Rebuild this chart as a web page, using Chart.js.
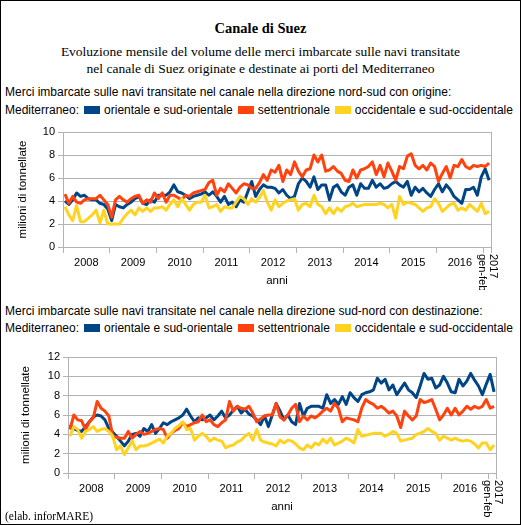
<!DOCTYPE html>
<html>
<head>
<meta charset="utf-8">
<script src="https://cdn.jsdelivr.net/npm/chart.js@4.4.0/dist/chart.umd.min.js"></script>
<style>
  body { margin: 0; background: #fff; }
  #page { position: relative; width: 521px; height: 525px; overflow: hidden; font-family: "Liberation Sans", Arial, sans-serif; color: #000; }
  #frame { position: absolute; left: 0; top: 0; width: 521px; height: 525px; border: 1px solid #000; box-sizing: border-box; pointer-events: none; }
  .t { position: absolute; white-space: nowrap; }
  .serif { font-family: "Liberation Serif", "Times New Roman", serif; }
  .sans { font-size: 12px; line-height: 15px; left: 5px; }
  .sw { display: inline-block; width: 16px; height: 8px; margin: 0 4px 0 5px; vertical-align: 0px; }
  canvas { position: absolute; left: 0; }
</style>
</head>
<body>
<div id="page">
  <div class="t serif" style="top:19px;left:0;width:521px;text-align:center;font-size:14.5px;font-weight:bold;line-height:18px">Canale di Suez</div>
  <div class="t serif" style="top:43px;left:0;width:521px;text-align:center;font-size:13.5px;line-height:17px">Evoluzione mensile del volume delle merci imbarcate sulle navi transitate<br>nel canale di Suez originate e destinate ai porti del Mediterraneo</div>

  <div class="t sans" style="top:85px">Merci imbarcate sulle navi transitate nel canale nella direzione nord-sud con origine:</div>
  <div class="t sans legend" style="top:103px"></div>
  <canvas id="chartNS" width="521" height="172" style="top:118px"></canvas>

  <div class="t sans" style="top:304px">Merci imbarcate sulle navi transitate nel canale nella direzione sud-nord con destinazione:</div>
  <div class="t sans legend" style="top:321px"></div>
  <canvas id="chartSN" width="521" height="182" style="top:343px"></canvas>

  <div class="t serif" style="top:509px;left:5px;font-size:11.5px;line-height:14px">(elab. inforMARE)</div>
  <div id="frame"></div>
</div>
<script>
const years = ["2008", "2009", "2010", "2011", "2012", "2013", "2014", "2015", "2016"];
const lastPeriod = ["2017", "gen-feb"];
const seriesNames = ["orientale e sud-orientale", "settentrionale", "occidentale e sud-occidentale"];
const colors = ["#004586", "#ff420e", "#ffd320"];

// nord-sud, per porti di origine (milioni di tonnellate, gen 2008 - feb 2017)
const nsOrientale = [
  4.0, 3.7, 4.1, 4.7, 4.4, 4.5, 4.2, 4.1, 4.1, 3.8, 3.7, 3.3,
  2.3, 3.7, 3.5, 3.4, 3.7, 3.9, 4.2, 4.4, 3.8, 3.7, 4.1, 3.9,
  4.5, 4.5, 4.5, 4.8, 5.4, 4.8, 4.7, 4.5, 4.2, 4.4, 4.5, 4.6,
  4.8, 4.5, 4.8, 4.4, 3.9, 4.4, 3.7, 3.9, 3.5, 4.1, 3.9, 4.8,
  5.7, 4.4, 5.0, 5.4, 5.2, 5.2, 5.1, 4.7, 5.0, 4.5, 4.2, 4.4,
  5.5, 6.0, 5.7, 5.2, 6.1, 5.0, 5.4, 5.4, 4.1, 5.2, 5.4, 4.8,
  4.5, 5.2, 5.4, 4.5, 5.5, 5.1, 5.1, 5.8, 5.2, 5.5, 5.1, 5.2,
  5.5, 5.7, 5.4, 5.2, 5.7, 4.5, 5.2, 4.8, 5.1, 4.7, 4.4, 5.0,
  5.5, 4.8, 5.4, 5.0, 4.4, 4.1, 3.8, 5.0, 5.0, 5.2, 4.5, 6.1,
  6.8, 5.8
];
const nsSettentrionale = [
  4.6, 3.8, 4.4, 3.9, 3.8, 4.1, 4.2, 4.2, 4.2, 4.5, 4.1, 3.7,
  2.6, 4.1, 4.4, 4.1, 3.9, 4.2, 4.4, 4.5, 3.8, 4.1, 3.9, 4.7,
  4.2, 4.7, 3.9, 4.5, 4.5, 4.3, 4.1, 4.5, 4.4, 4.7, 4.8, 4.9,
  5.0, 5.6, 5.8, 4.5, 5.1, 4.8, 5.5, 5.1, 4.7, 5.2, 5.5, 5.4,
  5.1, 5.1, 5.6, 6.3, 5.8, 6.7, 6.5, 7.1, 5.7, 6.7, 6.3, 7.4,
  6.6, 6.1, 6.7, 6.8, 8.0, 7.4, 8.0, 6.6, 6.7, 7.0, 6.6, 6.4,
  5.8, 5.7, 6.7, 6.0, 6.7, 6.8, 7.0, 7.4, 6.3, 7.1, 6.1, 7.3,
  6.6, 5.8, 7.0, 6.8, 7.9, 8.1, 7.1, 6.8, 7.1, 6.7, 7.3, 7.0,
  5.7, 6.4, 7.0, 6.0, 7.1, 7.0, 7.6, 7.0, 6.8, 7.1, 7.0, 7.1,
  7.0, 7.3
];
const nsOccidentale = [
  3.5, 2.8, 2.3, 3.6, 2.2, 2.2, 2.5, 2.8, 3.2, 2.1, 3.2, 2.0,
  2.0, 2.0, 2.0, 2.5, 2.9, 3.2, 2.8, 3.4, 3.1, 3.4, 3.1, 3.4,
  3.4, 3.5, 3.2, 3.7, 4.1, 3.5, 4.2, 3.7, 3.2, 3.7, 3.9, 3.9,
  4.5, 3.4, 3.5, 3.7, 3.1, 3.5, 3.4, 3.4, 3.9, 4.4, 4.2, 3.7,
  4.2, 3.9, 4.3, 4.9, 3.9, 3.2, 4.1, 3.5, 3.8, 4.0, 4.1, 4.2,
  3.2, 3.7, 3.8, 3.5, 4.5, 3.7, 3.5, 2.9, 3.4, 2.9, 3.4, 3.1,
  3.5, 3.6, 3.8, 3.5, 3.6, 3.7, 3.7, 3.7, 3.7, 3.8, 3.7, 3.4,
  3.7, 2.5, 4.4, 3.7, 3.9, 3.8, 3.7, 3.4, 3.1, 3.4, 3.5, 4.2,
  3.8, 3.1, 3.4, 3.7, 3.8, 3.2, 3.4, 3.2, 3.7, 3.4, 3.1, 3.8,
  2.9, 3.1
];

// sud-nord, per porti di destinazione
const snOrientale = [
  5.0, 4.6, 4.4, 4.3, 4.8, 5.3, 5.8, 6.0, 5.9, 5.5, 4.6, 4.2,
  3.8, 3.3, 2.8, 3.3, 4.0, 4.1, 3.8, 4.6, 4.3, 5.0, 4.1, 4.6,
  5.2, 5.0, 5.3, 5.5, 5.7, 6.0, 6.6, 5.9, 5.3, 5.7, 5.5, 5.7,
  6.0, 5.5, 5.9, 6.4, 5.7, 6.0, 6.5, 6.9, 6.2, 6.6, 6.1, 5.9,
  5.5, 5.0, 5.9, 4.8, 6.0, 7.2, 6.4, 5.5, 6.0, 5.3, 5.0, 7.2,
  5.9, 6.7, 6.9, 6.9, 6.9, 6.7, 8.1, 7.2, 7.6, 7.1, 7.9, 7.1,
  8.3, 7.8, 7.4, 8.1, 8.3, 8.4, 8.6, 9.8, 9.3, 9.7, 8.6, 9.1,
  8.1, 8.7, 9.3, 8.6, 8.3, 7.8, 9.0, 10.3, 9.7, 9.8, 8.8, 9.1,
  10.0, 9.3, 8.4, 8.3, 9.7, 9.0, 9.5, 10.3, 9.6, 9.0, 8.1, 9.2,
  10.2, 8.4
];
const snSettentrionale = [
  4.5, 6.0, 5.5, 5.4, 4.5, 5.3, 5.7, 7.4, 6.7, 6.4, 5.9, 3.8,
  3.7, 3.6, 3.6, 4.3, 3.6, 4.0, 4.3, 4.0, 4.1, 4.3, 4.5, 4.6,
  4.5, 3.6, 4.1, 4.4, 4.6, 5.2, 4.8, 5.0, 5.2, 5.3, 6.0, 5.3,
  5.5, 5.0, 4.8, 5.2, 5.5, 7.4, 6.4, 6.9, 6.7, 6.6, 6.9, 6.2,
  5.3, 5.6, 5.9, 6.0, 6.0, 7.2, 5.8, 5.5, 6.0, 6.7, 7.1, 5.3,
  5.9, 5.5, 5.9, 5.7, 6.0, 6.4, 6.7, 6.4, 7.2, 6.7, 5.3, 5.7,
  5.6, 5.5, 5.3, 6.7, 7.6, 7.3, 7.1, 6.7, 6.9, 6.6, 6.2, 6.4,
  5.9, 4.7, 6.4, 5.9, 5.5, 5.9, 7.6, 7.3, 7.4, 7.6, 6.6, 5.5,
  6.0, 6.7, 6.0, 6.7, 6.0, 6.4, 6.9, 6.6, 6.9, 6.7, 6.9, 7.6,
  6.7, 6.9
];
const snOccidentale = [
  3.8, 4.8, 4.5, 3.6, 4.3, 4.5, 4.8, 4.3, 4.5, 4.6, 4.3, 3.8,
  2.4, 2.8, 1.9, 2.6, 3.3, 2.4, 2.8, 2.8, 2.9, 3.1, 3.3, 3.5,
  3.1, 3.8, 4.1, 4.6, 4.9, 5.3, 4.5, 4.6, 3.4, 3.8, 4.1, 3.8,
  3.3, 3.6, 3.4, 3.3, 2.6, 2.8, 2.9, 3.2, 3.4, 3.8, 4.1, 3.4,
  4.5, 3.4, 3.2, 3.1, 3.0, 2.8, 3.4, 3.1, 3.4, 3.3, 3.0, 2.6,
  2.4, 2.9, 2.6, 3.1, 2.9, 3.5, 3.1, 3.6, 2.9, 3.1, 3.3, 3.6,
  3.4, 3.1, 4.5, 3.8, 3.9, 4.0, 4.1, 4.1, 4.1, 3.8, 4.0, 4.3,
  4.1, 3.3, 3.4, 3.5, 3.6, 4.0, 4.1, 4.3, 4.6, 4.3, 4.1, 3.4,
  3.8, 3.6, 3.4, 3.6, 3.4, 3.3, 3.4, 3.3, 3.0, 2.6, 3.1, 3.1,
  2.4, 2.9
];

const nMonths = nsOrientale.length;
const gridGrey = "#b3b3b3";
const tickFont = { family: "Liberation Sans", size: 11 };
const titleFont = { family: "Liberation Sans", size: 11.5 };

// legends in html, same colours as the lines
document.querySelectorAll(".legend").forEach(function (el) {
  let html = "Mediterraneo:";
  seriesNames.forEach(function (name, i) {
    html += '<span class="sw" style="background:' + colors[i] + '"></span>' + name;
  });
  el.innerHTML = html;
});

function toPoints(arr) {
  return arr.map((v, i) => ({ x: i + 0.5, y: v }));
}

// right border of the plot and the rotated "2017 gen-feb" label
const extras = {
  id: "extras",
  afterDraw(chart) {
    const { ctx, chartArea, scales } = chart;
    ctx.save();
    ctx.strokeStyle = gridGrey;
    ctx.lineWidth = 1;
    const rx = Math.round(chartArea.right) + 0.5;
    ctx.beginPath();
    ctx.moveTo(rx, chartArea.top);
    ctx.lineTo(rx, chartArea.bottom);
    ctx.stroke();

    const x = scales.x.getPixelForValue(nMonths - 1);
    ctx.translate(x, scales.x.top + 7);
    ctx.rotate(Math.PI / 2);
    ctx.fillStyle = "#000";
    ctx.font = "11px 'Liberation Sans'";
    ctx.textBaseline = "middle";
    ctx.textAlign = "left";
    ctx.fillText(lastPeriod[0], 0, -6);
    ctx.fillText(lastPeriod[1], 0, 5);
    ctx.restore();
  }
};

function createChart(id, data, yMax, opt) {
  const datasets = data.map((arr, i) => ({
    label: seriesNames[i],
    data: toPoints(arr),
    borderColor: colors[i],
    backgroundColor: colors[i],
    borderWidth: 3,
    pointRadius: 0,
    tension: 0,
    borderJoinStyle: "round",
    order: data.length - i
  }));
  return new Chart(document.getElementById(id), {
    type: "line",
    data: { datasets: datasets },
    options: {
      responsive: false,
      animation: false,
      layout: { padding: { top: opt.padTop, right: opt.padRight, left: 0, bottom: 0 } },
      plugins: { legend: { display: false }, tooltip: { enabled: false } },
      scales: {
        x: {
          type: "linear",
          min: 0,
          max: nMonths,
          afterBuildTicks: function (s) {
            const t = [];
            for (let v = 0; v <= nMonths; v += 6) t.push({ value: v });
            t.push({ value: nMonths });
            s.ticks = t;
          },
          afterFit: function (s) { s.height = opt.xHeight; },
          grid: {
            drawOnChartArea: false,
            tickLength: 6,
            color: (c) => (c.tick && (c.tick.value % 12 === 0 || c.tick.value === nMonths)) ? gridGrey : "rgba(0,0,0,0)"
          },
          border: { color: gridGrey },
          ticks: {
            autoSkip: false,
            maxRotation: 0,
            minRotation: 0,
            padding: 3,
            color: "#000",
            font: tickFont,
            callback: function (v) {
              const k = (v - 6) / 12;
              return Number.isInteger(k) && k < years.length ? years[k] : "";
            }
          },
          title: { display: true, text: "anni", color: "#000", font: titleFont, padding: { top: 0, bottom: opt.anniPad } }
        },
        y: {
          min: 0,
          max: yMax,
          afterFit: function (s) { s.width = opt.yWidth; },
          grid: { color: gridGrey, tickLength: 5 },
          border: { color: gridGrey },
          ticks: { stepSize: 2, padding: 3, color: "#000", font: tickFont },
          title: { display: true, text: "milioni di tonnellate", color: "#000", font: titleFont, padding: { top: opt.yTitlePad, bottom: 0 } }
        }
      }
    },
    plugins: [extras]
  });
}

createChart("chartNS", [nsOrientale, nsSettentrionale, nsOccidentale], 10,
  { padTop: 14, padRight: 30, xHeight: 43, anniPad: 2, yWidth: 63, yTitlePad: 16 });
createChart("chartSN", [snOrientale, snSettentrionale, snOccidentale], 12,
  { padTop: 14, padRight: 25, xHeight: 52, anniPad: 11, yWidth: 68, yTitlePad: 19 });
</script>
</body>
</html>
